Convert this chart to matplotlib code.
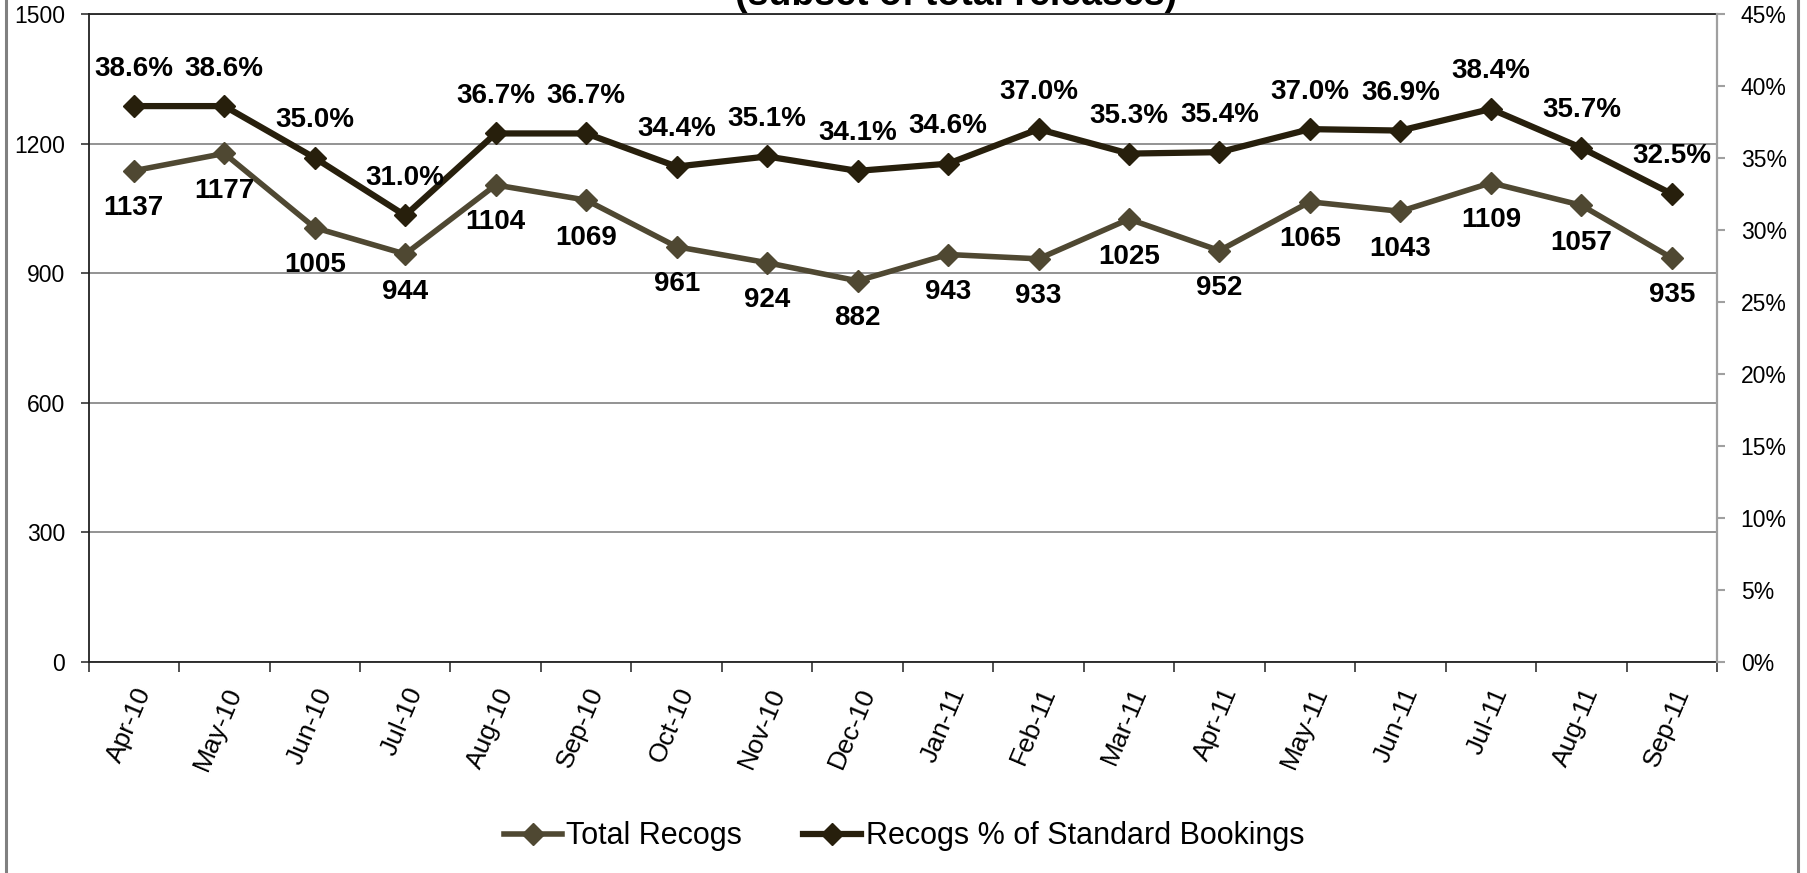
import matplotlib.pyplot as plt
from matplotlib.lines import Line2D
from matplotlib.ticker import FuncFormatter

plt.rcParams['font.family'] = ['Liberation Sans', 'DejaVu Sans']

months = ["Apr-10", "May-10", "Jun-10", "Jul-10", "Aug-10", "Sep-10", "Oct-10", "Nov-10", "Dec-10",
          "Jan-11", "Feb-11", "Mar-11", "Apr-11", "May-11", "Jun-11", "Jul-11", "Aug-11", "Sep-11"]
total_recogs = [1137, 1177, 1005, 944, 1104, 1069, 961, 924, 882, 943, 933, 1025, 952, 1065, 1043, 1109, 1057, 935]
recog_pct = [38.6, 38.6, 35.0, 31.0, 36.7, 36.7, 34.4, 35.1, 34.1, 34.6, 37.0, 35.3, 35.4, 37.0, 36.9, 38.4, 35.7, 32.5]

c_total = '#4f4832'
c_pct = '#271f0c'

fig = plt.figure(figsize=(18.08, 8.73), dpi=100)
ax = fig.add_axes([0.049, 0.242, 0.9007, 0.742])
ax2 = ax.twinx()

x = list(range(len(months)))

# axes, grid, ticks
ax.set_xlim(-0.5, len(months) - 0.5)
ax.set_ylim(0, 1500)
ax.set_yticks([0, 300, 600, 900, 1200, 1500])
ax.yaxis.grid(True, color='#808080', linewidth=1.2)
ax.set_axisbelow(True)
ax.set_xticks([i - 0.5 for i in range(len(months) + 1)])
ax.set_xticklabels([])
ax.set_xticks(x, minor=True)
ax.set_xticklabels(months, minor=True, rotation=67, ha='right', va='top',
                   rotation_mode='anchor', fontsize=19)
ax.tick_params(axis='x', which='minor', length=0, pad=16)
ax.tick_params(axis='x', which='major', length=7, width=1.2, color='#333333', direction='out')
ax.tick_params(axis='y', length=6, width=1.2, color='#333333', labelsize=16.5, pad=11)
for s in ['left', 'bottom', 'top']:
    ax.spines[s].set_color('#222222')
    ax.spines[s].set_linewidth(1.3)
ax.spines['right'].set_visible(False)

ax2.set_ylim(0, 45)
ax2.set_yticks(range(0, 50, 5))
ax2.yaxis.set_major_formatter(FuncFormatter(lambda v, p: f"{v:.0f}%"))
ax2.tick_params(axis='y', length=6, width=1.5, color='#a0a0a0', labelsize=16.5, pad=11)
ax2.spines['right'].set_color('#a0a0a0')
ax2.spines['right'].set_linewidth(1.6)
for s in ['left', 'bottom', 'top']:
    ax2.spines[s].set_visible(False)

l1, = ax.plot(x, total_recogs, color=c_total, linewidth=4, marker='D', markersize=11,
              label='Total Recogs', zorder=3)
l2, = ax2.plot(x, recog_pct, color=c_pct, linewidth=4.5, marker='D', markersize=11,
               label='Recogs % of Standard Bookings', zorder=3)

for xi, v in zip(x, total_recogs):
    ax.annotate(str(v), (xi, v), xytext=(0, -27), textcoords='offset points',
                ha='center', va='center', fontsize=20, fontweight='bold')
for xi, v in zip(x, recog_pct):
    ax2.annotate(f"{v:.1f}%", (xi, v), xytext=(0, 27), textcoords='offset points',
                 ha='center', va='center', fontsize=20, fontweight='bold')

fig.legend(handles=[l1, l2], loc='center', bbox_to_anchor=(0.5, 0.042), ncol=2,
           frameon=False, fontsize=22, handlelength=1.9, columnspacing=2.0, handletextpad=0.15)

# cut-off title and chart border
fig.text(0.529, 1 - 5 / 873, "(subset of total releases)", ha='center', va='baseline',
         fontsize=27, fontweight='bold')
fig.add_artist(Line2D([6 / 1808, 6 / 1808], [0, 1], color='#808080', linewidth=2.2))
fig.add_artist(Line2D([1798 / 1808, 1798 / 1808], [0, 1], color='#808080', linewidth=2.2))

fig.savefig('out.png', dpi=100)
